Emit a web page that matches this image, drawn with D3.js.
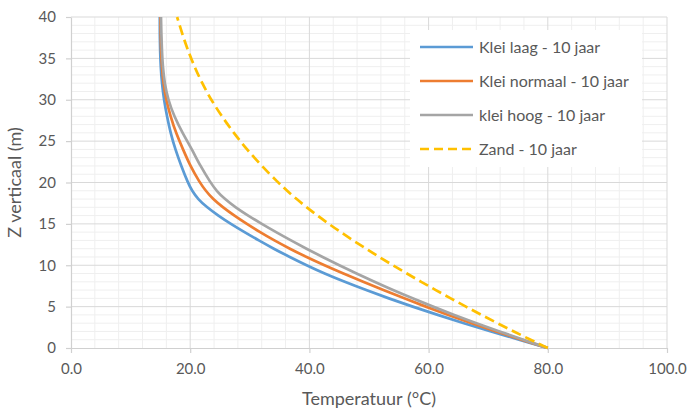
<!DOCTYPE html>
<html><head><meta charset="utf-8">
<script src="https://cdn.jsdelivr.net/npm/d3@7"></script>
<style>body{margin:0;background:#fff}svg{display:block}</style>
</head><body>
<svg id="c" width="689" height="412"></svg>
<script>
const depths = [0,1,2,3,4,5,6,7,8,9,10,11,12,13,14,15,16,17,18,19,20,22,24,26,28,30,32,34,36,38,40];
const kleiLaag = [80,75.15,70.45,65.9,61.5,57.3,53.3,49.5,45.9,42.5,39.5,36.7,34.0,31.5,29.1,26.8,24.7,22.8,21.3,20.3,19.6,18.5,17.5,16.7,16.1,15.6,15.25,15.05,14.95,14.9,14.9];
const kleiNormaal = [80,75.6,71.3,67.2,63.3,59.5,55.9,52.4,49.0,45.7,42.5,39.5,36.7,34.1,31.7,29.5,27.4,25.5,23.8,22.6,21.6,20.0,18.8,17.6,16.7,15.95,15.5,15.25,15.1,15.05,15.0];
const kleiHoog = [80,75.9,71.9,68.0,64.3,60.7,57.3,54.0,50.9,47.9,45.0,42.2,39.5,36.9,34.4,32.0,29.7,27.6,25.8,24.4,23.4,21.7,20.3,18.7,17.3,16.3,15.7,15.4,15.25,15.15,15.1];
const zand = [80,77.1,74.3,71.55,68.85,66.25,63.7,61.2,58.75,56.35,54.0,51.7,49.5,47.35,45.25,43.25,41.35,39.55,37.85,36.25,34.75,32.0,29.5,27.3,25.3,23.5,22.0,20.7,19.6,18.65,17.8];
const seriesNames = ["Klei laag - 10 jaar","Klei normaal - 10 jaar","klei hoog - 10 jaar","Zand - 10 jaar"];
const xTicks = [0,20,40,60,80,100];
const yTicks = [0,5,10,15,20,25,30,35,40];
const xTitle = "Temperatuur (°C)";
const yTitle = "Z verticaal (m)";

const series = [
  {name: seriesNames[0], vals: kleiLaag, color: "#5B9BD5", dash: null},
  {name: seriesNames[1], vals: kleiNormaal, color: "#ED7D31", dash: null},
  {name: seriesNames[2], vals: kleiHoog, color: "#A5A5A5", dash: null},
  {name: seriesNames[3], vals: zand, color: "#FFC000", dash: "10,5"}
];

const svg = d3.select("#c");
const font = "Lato, 'Open Sans', sans-serif";
const L = 71, R = 667, T = 17, B = 348;
const x = d3.scaleLinear().domain([0,100]).range([L,R]);
const y = d3.scaleLinear().domain([0,40]).range([B,T]);

// minor grid
const g = svg.append("g");
g.selectAll(".mx").data(d3.range(0,101,4).filter(v=>v%20!==0)).enter().append("line")
  .attr("x1",d=>x(d)).attr("x2",d=>x(d)).attr("y1",T).attr("y2",B)
  .attr("stroke","#efefef").attr("stroke-width",1);
g.selectAll(".my").data(d3.range(0,41,1).filter(v=>v%5!==0)).enter().append("line")
  .attr("x1",L).attr("x2",R).attr("y1",d=>y(d)).attr("y2",d=>y(d))
  .attr("stroke","#efefef").attr("stroke-width",1);
// major grid
g.selectAll(".Mx").data(xTicks.slice(1)).enter().append("line")
  .attr("x1",d=>x(d)).attr("x2",d=>x(d)).attr("y1",T).attr("y2",B)
  .attr("stroke","#d9d9d9").attr("stroke-width",1);
g.selectAll(".My").data(yTicks.slice(1)).enter().append("line")
  .attr("x1",L).attr("x2",R).attr("y1",d=>y(d)).attr("y2",d=>y(d))
  .attr("stroke","#d9d9d9").attr("stroke-width",1);

// axes
const xAxis = d3.axisBottom(x).tickValues(xTicks).tickFormat(d3.format(".1f")).tickSizeInner(5).tickSizeOuter(0).tickPadding(10);
const yAxis = d3.axisLeft(y).tickValues(yTicks).tickFormat(d3.format("d")).tickSizeInner(5).tickSizeOuter(0).tickPadding(10);
const gx = svg.append("g").attr("transform",`translate(0,${B})`).call(xAxis);
const gy = svg.append("g").attr("transform",`translate(${L},0)`).call(yAxis);
[gx,gy].forEach(a=>{
  a.select(".domain").attr("stroke","#d0d0d0").attr("stroke-width",1.2);
  a.selectAll(".tick line").attr("stroke","#d0d0d0").attr("stroke-width",1.2);
  a.selectAll(".tick text").attr("fill","#595959").style("font-family",font).style("font-size","15px");
});

// lines
const line = d3.line().x(d=>x(d[0])).y(d=>y(d[1])).curve(d3.curveBasis);
series.forEach(s=>{
  svg.append("path").datum(s.vals.map((v,i)=>[v,depths[i]]))
    .attr("d",line).attr("fill","none").attr("stroke",s.color)
    .attr("stroke-width",2.7).attr("stroke-dasharray",s.dash);
});

// titles
svg.append("text").attr("x",(L+R)/2).attr("y",405).attr("text-anchor","middle")
  .attr("fill","#595959").style("font-family",font).style("font-size","18px").text(xTitle);
svg.append("text").attr("transform",`translate(21,${(T+B)/2}) rotate(-90)`).attr("text-anchor","middle")
  .attr("fill","#595959").style("font-family",font).style("font-size","18px").text(yTitle);

// legend
const lg = svg.append("g");
lg.append("rect").attr("x",410).attr("y",30).attr("width",232).attr("height",137).attr("fill","#fff");
series.forEach((s,i)=>{
  const yy = 47 + i*34;
  lg.append("line").attr("x1",420).attr("x2",473).attr("y1",yy).attr("y2",yy)
    .attr("stroke",s.color).attr("stroke-width",2.7).attr("stroke-dasharray",s.dash ? "9,5" : null);
  lg.append("text").attr("x",479).attr("y",yy).attr("dy","0.35em")
    .attr("fill","#595959").style("font-family",font).style("font-size","16px").text(s.name);
});
</script>
</body></html>
